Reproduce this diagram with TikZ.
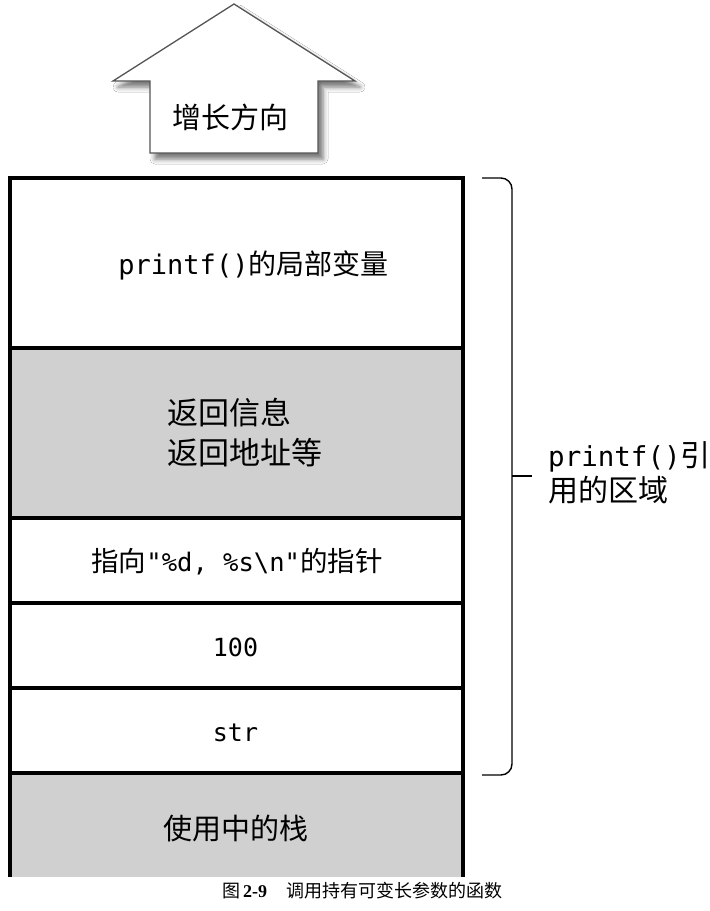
\documentclass[tikz,border=0pt]{standalone}
\usepackage{fontspec}
\setmainfont{Noto Sans CJK SC}
\setmonofont{DejaVu Sans Mono}
\newfontfamily\capserif{Liberation Serif}
\usetikzlibrary{shadows.blur}
\definecolor{stackgray}{RGB}{208,208,208}
\definecolor{arrowline}{RGB}{85,85,85}
\newcommand{\mcode}[2]{{\ttfamily\fontsize{#1}{#1}\selectfont #2}}
\tikzset{
  cell/.style={draw=black, line width=3.5pt, minimum width=453pt, inner sep=0pt, outer sep=0pt},
  whitecell/.style={cell, fill=white},
  graycell/.style={cell, fill=stackgray},
  lbl/.style={inner sep=0pt, font=\fontsize{28}{40}\selectfont, text=black},
  bracepath/.style={line width=1.4pt, draw=black, rounded corners=11pt},
}
\begin{document}
\begin{tikzpicture}[x=1pt,y=-1pt]
\useasboundingbox (0,0) rectangle (710,911);
\fill[white] (0,0) rectangle (710,911);

% growth arrow
\draw[arrowline, line width=1.3pt, fill=white, line join=miter,
  blur shadow={shadow xshift=5pt, shadow yshift=-6pt, shadow blur radius=5pt, shadow opacity=55}]
  (234,4) -- (355,81) -- (318,81) -- (318,153) -- (150,153) -- (150,81) -- (113,81) -- cycle;
\node[lbl, font=\fontsize{29}{29}\selectfont] (grow) at (230,117) {增长方向};

% bottom in-use stack cell (open at the bottom)
\fill[stackgray] (10,773) rectangle (463,877);
\draw[line width=3.5pt] (10,877) -- (10,773) -- (463,773) -- (463,877);
\coordinate (b6) at (236.5,825);

% stack cells
\node[whitecell, minimum height=170pt] (b1) at (236.5,263) {};
\node[graycell,  minimum height=170pt] (b2) at (236.5,433) {};
\node[whitecell, minimum height=85pt]  (b3) at (236.5,560.5) {};
\node[whitecell, minimum height=85pt]  (b4) at (236.5,645.5) {};
\node[whitecell, minimum height=85pt]  (b5) at (236.5,730.5) {};

% labels
\node[lbl, font=\fontsize{28}{28}\selectfont] (t1) at (253.5,265) {\mcode{27}{printf()}的局部变量};
\node[lbl, align=left, anchor=west, font=\fontsize{31}{40}\selectfont] (t2) at (167,433) {返回信息\\返回地址等};
\node[lbl, font=\fontsize{27.5}{27.5}\selectfont] (t3) at (237,562) {指向\mcode{25.5}{"\%d, \%s\textbackslash n"}的指针};
\node[lbl] (t4) at (235.5,647) {\mcode{25}{100}};
\node[lbl] (t5) at (235.5,733) {\mcode{25}{str}};
\node[lbl, font=\fontsize{29}{29}\selectfont] (t6) at (235.5,828) {使用中的栈};

% brace
\coordinate (bt) at (482,178);
\coordinate (bb) at (482,775);
\coordinate (bm) at (512,476);
\coordinate (btip) at (532,476);
\draw[bracepath] (bt) -- (512,178) -- (512,775) -- (bb);
\draw[line width=1.4pt] (bm) -- (btip);
\node[lbl, align=left, anchor=west, font=\fontsize{30}{35}\selectfont] (region) at (548,473)
  {\mcode{27.5}{printf()}引\\用的区域};

% caption
\node[inner sep=0pt, anchor=west, font=\fontsize{18}{18}\selectfont] (cap) at (222,891)
  {图\,{\capserif\bfseries 2-9}\hspace{1.1em}调用持有可变长参数的函数};
\end{tikzpicture}
\end{document}
